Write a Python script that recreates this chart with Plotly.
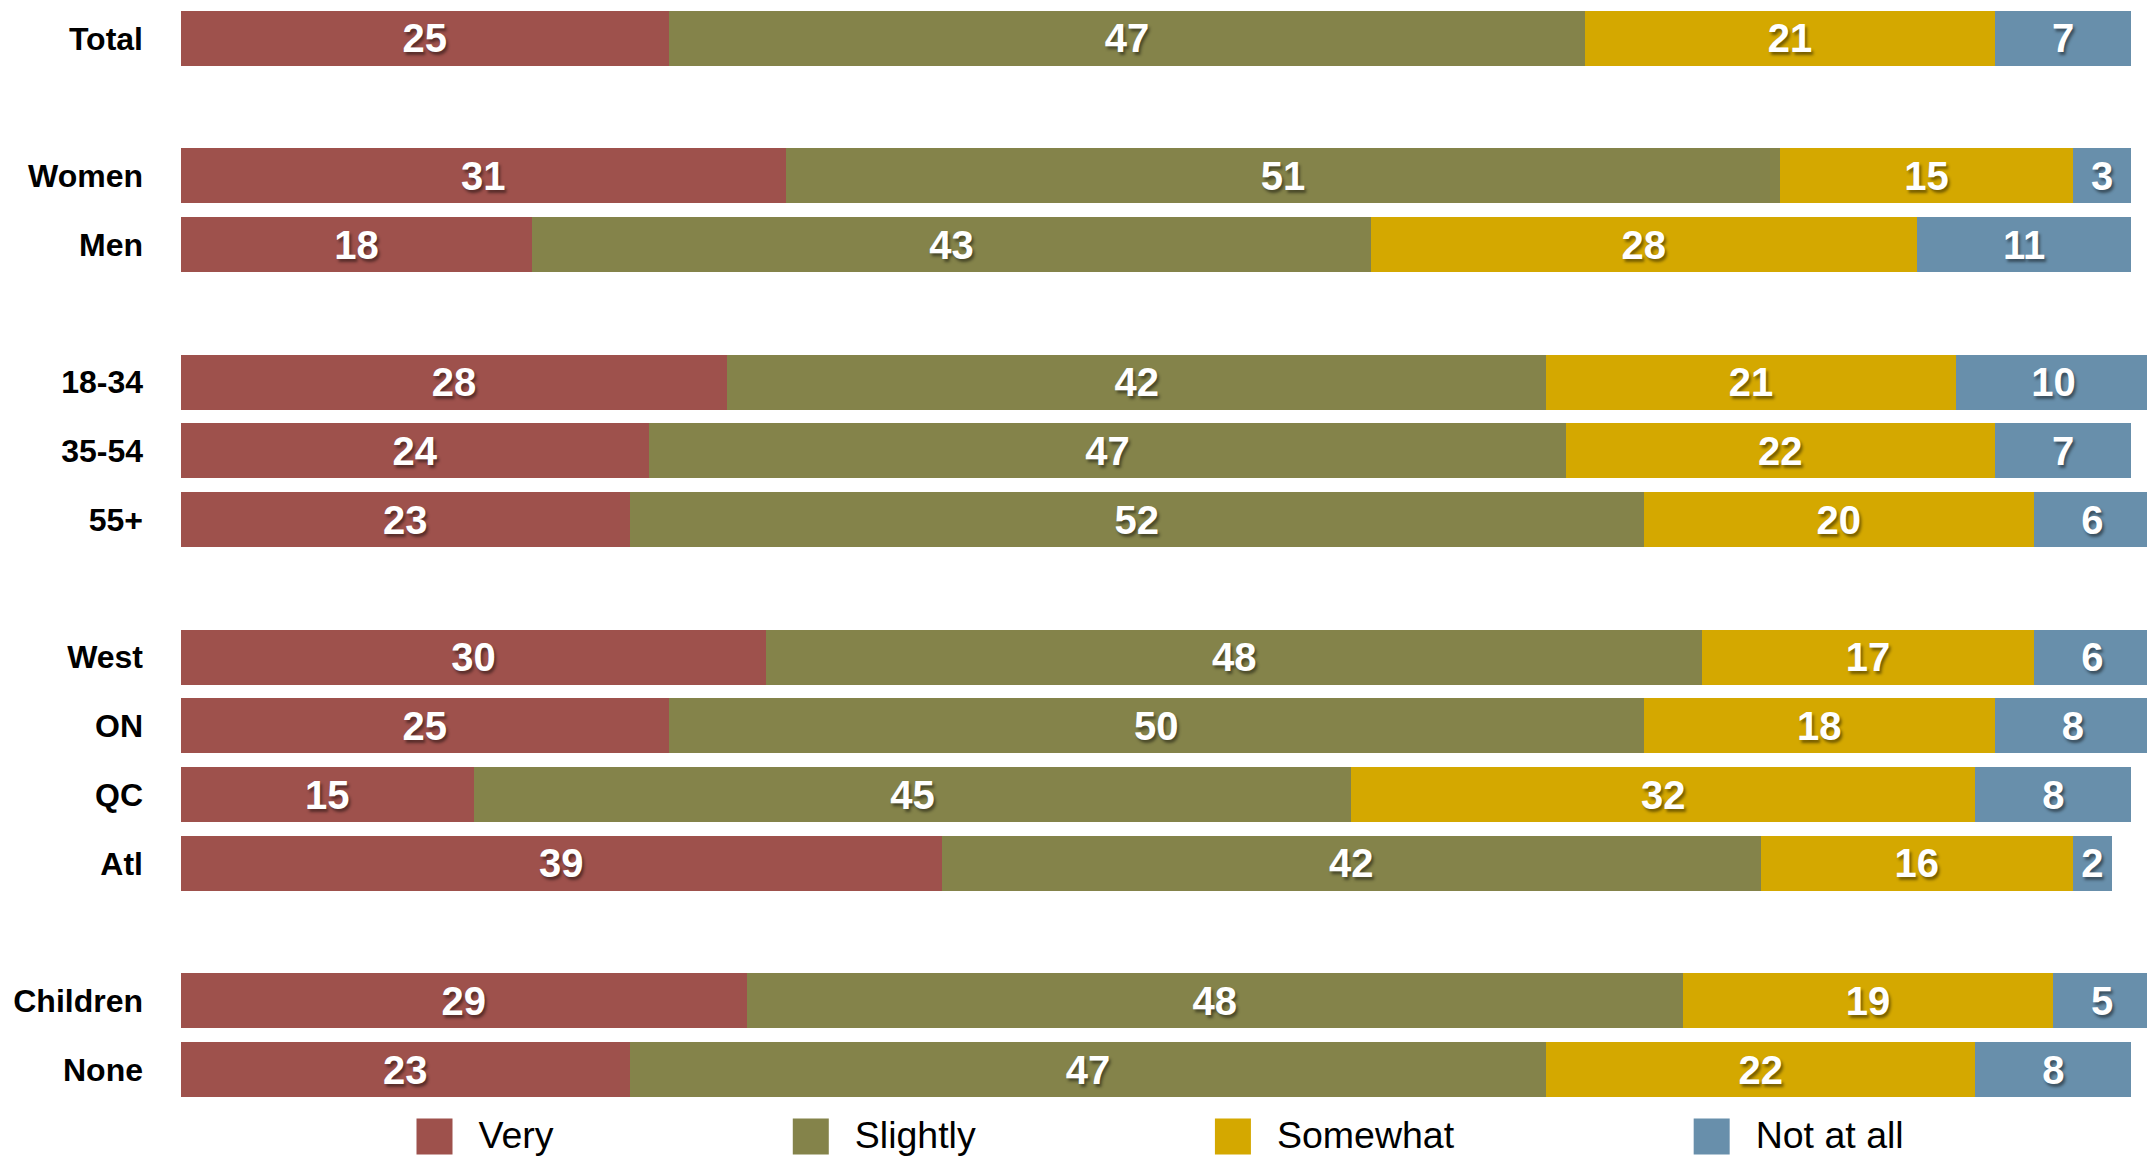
import plotly.graph_objects as go

# ---- data ----
groups = [
    ["Total"],
    ["Women", "Men"],
    ["18-34", "35-54", "55+"],
    ["West", "ON", "QC", "Atl"],
    ["Children", "None"],
]
series_names = ["Very", "Slightly", "Somewhat", "Not at all"]
very       = [25, 31, 18, 28, 24, 23, 30, 25, 15, 39, 29, 23]
slightly   = [47, 51, 43, 42, 47, 52, 48, 50, 45, 42, 48, 47]
somewhat   = [21, 15, 28, 21, 22, 20, 17, 18, 32, 16, 19, 22]
not_at_all = [7, 3, 11, 10, 7, 6, 6, 8, 8, 2, 5, 8]
colors = ["#9E514C", "#84834A", "#D4A800", "#688FAB"]

# build category axis with blank spacer rows between groups
labels = [lab for g in groups for lab in g]
categories = []
for gi, g in enumerate(groups):
    if gi > 0:
        categories.append(" " * gi)
    categories.extend(g)

def expand(vals):
    lookup = dict(zip(labels, vals))
    return [lookup.get(c) for c in categories]

series_vals = [very, slightly, somewhat, not_at_all]

W, H = 2147, 1158
ML, MR, MT, MB = 181, 0, 4, 54
pw = W - ML - MR
FONT = "Liberation Sans, Arial, sans-serif"
ITEMW = 286
LEGEND_TEXT_LEFT = 483.5

fig = go.Figure()
for i, (name, vals) in enumerate(zip(series_names, series_vals)):
    ev = expand(vals)
    fig.add_trace(go.Bar(
        name=name,
        y=categories,
        x=ev,
        orientation="h",
        marker=dict(color=colors[i], line=dict(width=0)),
        text=[("" if v is None else str(v)) for v in ev],
        texttemplate="%{text}",
        textposition="inside",
        insidetextanchor="middle",
        textangle=0,
        constraintext="none",
        textfont=dict(family=FONT, size=40, color="white", weight="bold",
                      shadow="2px 3px 3px rgba(0,0,0,0.45)"),
        hoverinfo="skip",
    ))

fig.update_layout(
    width=W, height=H,
    margin=dict(l=ML, r=MR, t=MT, b=MB, pad=0, autoexpand=False),
    barmode="stack",
    bargap=0.2,
    plot_bgcolor="white",
    paper_bgcolor="white",
    showlegend=True,
    legend=dict(
        x=(LEGEND_TEXT_LEFT - (ITEMW + 15) - ML) / pw,
        xanchor="left",
        y=-0.027,
        yanchor="middle",
        orientation="h",
        itemwidth=ITEMW,
        traceorder="normal",
        font=dict(family=FONT, size=37.5, color="black"),
        bgcolor="rgba(0,0,0,0)",
        itemclick=False,
        itemdoubleclick=False,
    ),
    xaxis=dict(range=[0, 100.8], visible=False, fixedrange=True),
    yaxis=dict(
        type="category",
        categoryorder="array",
        categoryarray=categories,
        range=[len(categories) - 0.5, -0.5],
        showgrid=False, zeroline=False, showline=False,
        ticks="",
        ticklabelstandoff=37,
        tickfont=dict(family=FONT, size=32, color="black", weight="bold"),
        fixedrange=True,
    ),
)

post = """
document.body.style.margin = '0';
(function(){
  function fix(){
    var items = document.querySelectorAll('g.traces');
    for (var k = 0; k < items.length; k++) {
      try {
        var tr = items[k];
        var txt = tr.querySelector('text.legendtext');
        var p = tr.querySelector('g.legendpoints path');
        if (!txt || !p) continue;
        p.setAttribute('d', 'M6,6H-6V-6H6Z');
        var tb = txt.getBoundingClientRect();
        var pb = p.getBoundingClientRect();
        var cx = (pb.left + pb.right) / 2;
        var dx = (tb.left - 26 - 18) - cx;
        var dy = 3;
        p.setAttribute('d', 'M' + (dx - 18) + ',' + (dy - 18) + 'H' + (dx + 18) +
                            'V' + (dy + 18) + 'H' + (dx - 18) + 'Z');
      } catch (e) {}
    }
  }
  var gd = document.getElementById('{plot_id}');
  if (gd && gd.on) { gd.on('plotly_afterplot', fix); }
  fix();
  [0, 30, 100, 250, 500, 1000].forEach(function(t){ setTimeout(fix, t); });
})();
"""

fig.write_html("out.html", config={"displayModeBar": False}, post_script=post)
